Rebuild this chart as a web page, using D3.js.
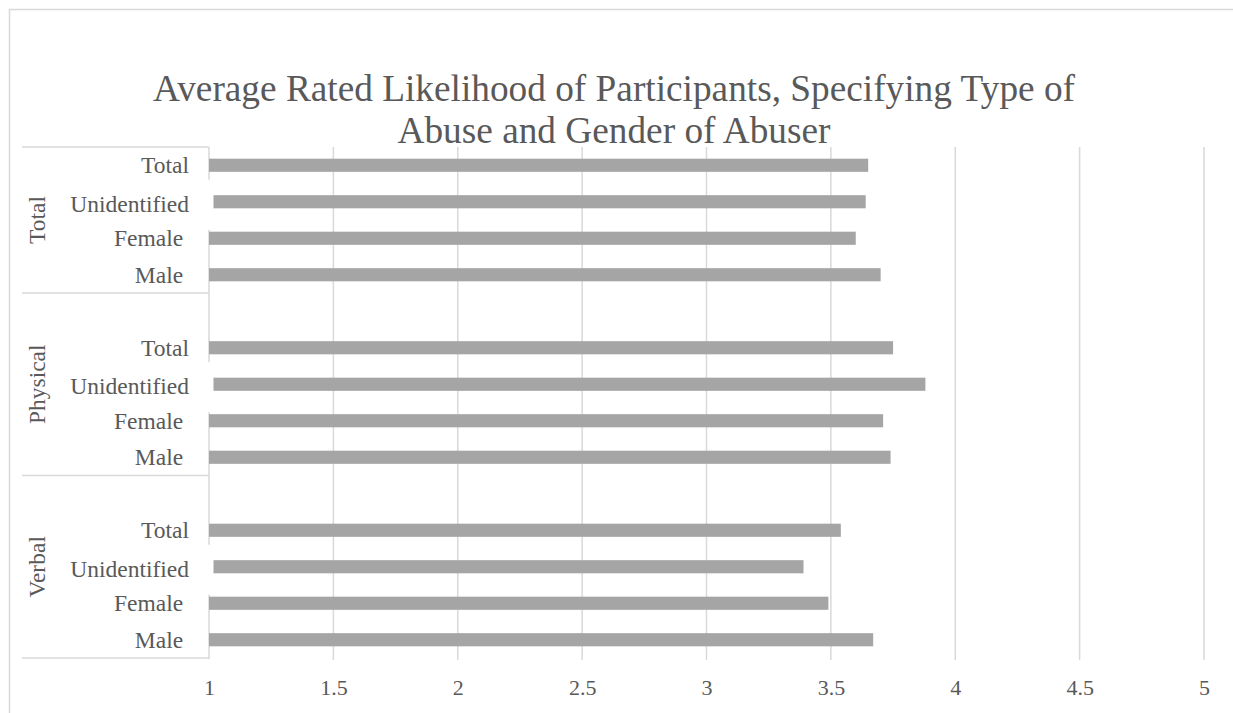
<!DOCTYPE html>
<html>
<head>
<meta charset="utf-8">
<script src="https://cdn.jsdelivr.net/npm/d3@7"></script>
<style>
  html, body { margin: 0; padding: 0; background: #fff; }
  svg { display: block; }
</style>
</head>
<body>
<svg id="chart" width="1233" height="713"></svg>
<script>
// ---- data ----
const titleLines = ["Average Rated Likelihood of Participants, Specifying Type of", "Abuse and Gender of Abuser"];
const groups = ["Verbal", "Physical", "Total"];          // bottom to top
const subcategories = ["Male ", "Female ", "Unidentified", "Total"]; // bottom to top within group
const verbalValues   = [3.67, 3.49, 3.39, 3.54];
const physicalValues = [3.74, 3.71, 3.88, 3.75];
const totalValues    = [3.70, 3.60, 3.64, 3.65];
const xTicks = [1, 1.5, 2, 2.5, 3, 3.5, 4, 4.5, 5];

const FONT = "Liberation Serif";
const TXT = "#595959";

// ---- build rows (Excel order bottom-up, blank row after Verbal and Physical) ----
const seriesByGroup = { "Verbal": verbalValues, "Physical": physicalValues, "Total": totalValues };
const rows = [];
groups.forEach((g, gi) => {
  subcategories.forEach((s, si) => rows.push({ key: g + "|" + si, group: g, label: s, value: seriesByGroup[g][si] }));
  if (gi < groups.length - 1) rows.push({ key: g + "|blank", group: g, label: "", value: null });
});
const topDown = rows.slice().reverse();

const svg = d3.select("#chart").style("font-family", FONT);
const plotTop = 147, plotBottom = 658, plotLeft = 209, plotRight = 1204;

// chart border
svg.append("rect").attr("x", 9.5).attr("y", 9.5).attr("width", 1240).attr("height", 720)
  .attr("fill", "#fff").attr("stroke", "#d9d9d9").attr("stroke-width", 1.5);

const x = d3.scaleLinear().domain([1, 5]).range([plotLeft, plotRight]);
const y = d3.scaleBand().domain(topDown.map(d => d.key)).range([plotTop, plotBottom])
  .paddingInner(0.64).paddingOuter(0.32);
const step = y.step();

// title
svg.append("text").attr("text-anchor", "middle")
  .style("font-family", FONT).style("font-size", "37.3px").attr("fill", TXT)
  .selectAll("tspan").data(titleLines).join("tspan")
  .attr("x", 614).attr("y", (d, i) => 101 + i * 42).text(d => d);

// gridlines
svg.append("g").selectAll("line").data(xTicks.filter(t => t > 1)).join("line")
  .attr("x1", d => x(d)).attr("x2", d => x(d))
  .attr("y1", plotTop).attr("y2", plotBottom + 2)
  .attr("stroke", "#d9d9d9").attr("stroke-width", 1.5);

// x axis tick labels
const xAxis = d3.axisBottom(x).tickValues(xTicks).tickSize(0).tickPadding(0).tickFormat(d3.format("~g"));
const xg = svg.append("g").attr("transform", `translate(0,${plotBottom})`).call(xAxis)
  .attr("font-family", FONT).attr("font-size", null);
xg.select(".domain").remove();
xg.selectAll("text").attr("y", 37).attr("dy", null)
  .style("font-family", FONT).style("font-size", "22px").attr("fill", TXT);

// category axis line and group separators
svg.append("line").attr("x1", plotLeft).attr("x2", plotLeft).attr("y1", plotTop).attr("y2", plotBottom + 1)
  .attr("stroke", "#d9d9d9").attr("stroke-width", 1.5);

const bounds = groups.map(g => {
  const idx = topDown.map((r, i) => r.group === g ? i : -1).filter(i => i >= 0);
  return { group: g, top: plotTop + d3.min(idx) * step, bottom: plotTop + (d3.max(idx) + 1) * step };
});
const sepYs = [plotTop, ...bounds.map(b => b.bottom)];
svg.append("g").selectAll("line").data(sepYs).join("line")
  .attr("x1", 22).attr("x2", plotLeft).attr("y1", d => d).attr("y2", d => d)
  .attr("stroke", "#d9d9d9").attr("stroke-width", 1.5);

// bars
svg.append("g").selectAll("rect").data(topDown.filter(r => r.value !== null)).join("rect")
  .attr("x", x(1)).attr("y", d => y(d.key))
  .attr("width", d => x(d.value) - x(1)).attr("height", y.bandwidth())
  .attr("fill", "#a5a5a5");

// label background boxes for long labels (they overlap the axis as in the original)
const cy = d => y(d.key) + y.bandwidth() / 2;
svg.append("g").selectAll("rect").data(topDown.filter(r => r.label === "Unidentified")).join("rect")
  .attr("x", 60).attr("width", x(1) + 4.5 - 60)
  .attr("y", d => cy(d) - 22).attr("height", 50)
  .attr("fill", "#fff");

// category labels
svg.append("g").selectAll("text").data(topDown.filter(r => r.label !== "")).join("text")
  .attr("x", 189).attr("y", d => cy(d) + (d.label === "Unidentified" ? 10 : 8))
  .attr("text-anchor", "end")
  .attr("xml:space", "preserve").style("white-space", "pre")
  .style("font-family", FONT).style("font-size", "23.5px").attr("fill", TXT)
  .text(d => d.label);

// group labels (rotated)
svg.append("g").selectAll("text").data(bounds).join("text")
  .attr("transform", d => `translate(45,${(d.top + d.bottom) / 2}) rotate(-90)`)
  .attr("text-anchor", "middle")
  .style("font-family", FONT).style("font-size", "23.5px").attr("fill", TXT)
  .text(d => d.group);
</script>
</body>
</html>
